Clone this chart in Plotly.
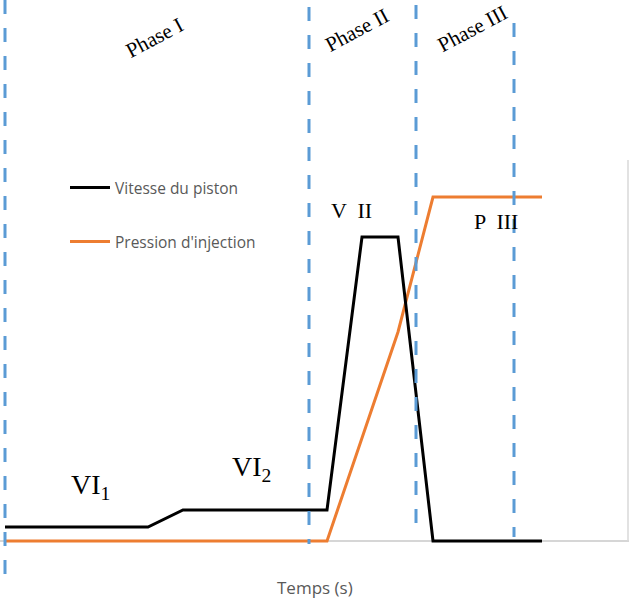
"""piston speed / injection pressure diagram by phase"""
import plotly.graph_objects as go

# time axis in arbitrary units, values in arbitrary units
speed_t = [0, 14.3, 17.8, 32.2, 35.7, 39.3, 42.8, 53.7]
speed_v = [1.4, 1.4, 3.1, 3.1, 30.4, 30.4, 0, 0]
press_t = [0, 32.2, 39.3, 42.8, 53.7]
press_v = [0, 0, 20.9, 34.4, 34.4]

phase_bounds = [0, 30.4, 41.1, 50.9]
phase_names = ["Phase I", "Phase II", "Phase III"]

BLUE = "#5B9BD5"
ORANGE = "#ED7D31"
GREY_TXT = "#595959"
SERIF = "Liberation Serif, Times New Roman, serif"
SANS = "Open Sans, Lato, sans-serif"

fig = go.Figure()
fig.add_trace(go.Scatter(x=press_t, y=press_v, mode="lines", name="Pression d'injection",
    line=dict(color=ORANGE, width=3), legend="legend2", showlegend=True, hoverinfo="skip"))
fig.add_trace(go.Scatter(x=speed_t, y=speed_v, mode="lines", name="Vitesse du piston",
    line=dict(color="black", width=3), legend="legend", showlegend=True, hoverinfo="skip"))

# axis base line and right border of the plot area
fig.add_shape(type="line", x0=-0.5, x1=62.4, y0=0, y1=0, line=dict(color="#c8c8c8", width=1.5), layer="below")
fig.add_shape(type="line", x0=62.3, x1=62.3, y0=0, y1=38.1, line=dict(color="#d9d9d9", width=1.5), layer="below")

# phase boundaries (top, bottom in axis units)
tops = [54.1, 53.4, 53.6, 51.8]
bottoms = [-3.4, -0.3, 0.4, 0.4]
for xb, y0, y1 in zip(phase_bounds, tops, bottoms):
    fig.add_shape(type="line", x0=xb, x1=xb, y0=y0, y1=y1,
                  line=dict(color=BLUE, width=3, dash="14px,14px"))

phase_pos = [(14.9, 50.3), (35.2, 51.1), (46.7, 51.2)]
for name, (px, py) in zip(phase_names, phase_pos):
    fig.add_annotation(x=px, y=py, text=name, showarrow=False, textangle=-28,
                       font=dict(family=SERIF, size=21, color="black"))

labels = [("VI<sub>1</sub>", 8.5, 5.5, 28), ("VI<sub>2</sub>", 24.6, 7.3, 28),
          ("V  II", 34.6, 33.1, 22), ("P  III", 49.1, 32.0, 22)]
for txt, lx, ly, sz in labels:
    fig.add_annotation(x=lx, y=ly, text=txt, showarrow=False,
                       font=dict(family=SERIF, size=sz, color="black"))

fig.add_annotation(x=31.0, y=-4.6, text="Temps (s)", showarrow=False,
                   font=dict(family=SANS, size=17, color=GREY_TXT))

leg = dict(x=65 / 629, xanchor="left", yanchor="middle", bgcolor="rgba(0,0,0,0)",
           font=dict(family=SANS, size=15.5, color=GREY_TXT), itemwidth=40)
fig.update_layout(
    width=629, height=601, margin=dict(l=0, r=0, t=0, b=0),
    paper_bgcolor="white", plot_bgcolor="white", showlegend=True,
    xaxis=dict(range=[-0.5, 62.4], visible=False, fixedrange=True),
    yaxis=dict(range=[-6, 54.1], visible=False, fixedrange=True),
    legend=dict(leg, y=1 - 188 / 601),
    legend2=dict(leg, y=1 - 242 / 601),
)

fig.write_html("out.html", config={"displayModeBar": False},
               post_script="document.body.style.margin='0';")
